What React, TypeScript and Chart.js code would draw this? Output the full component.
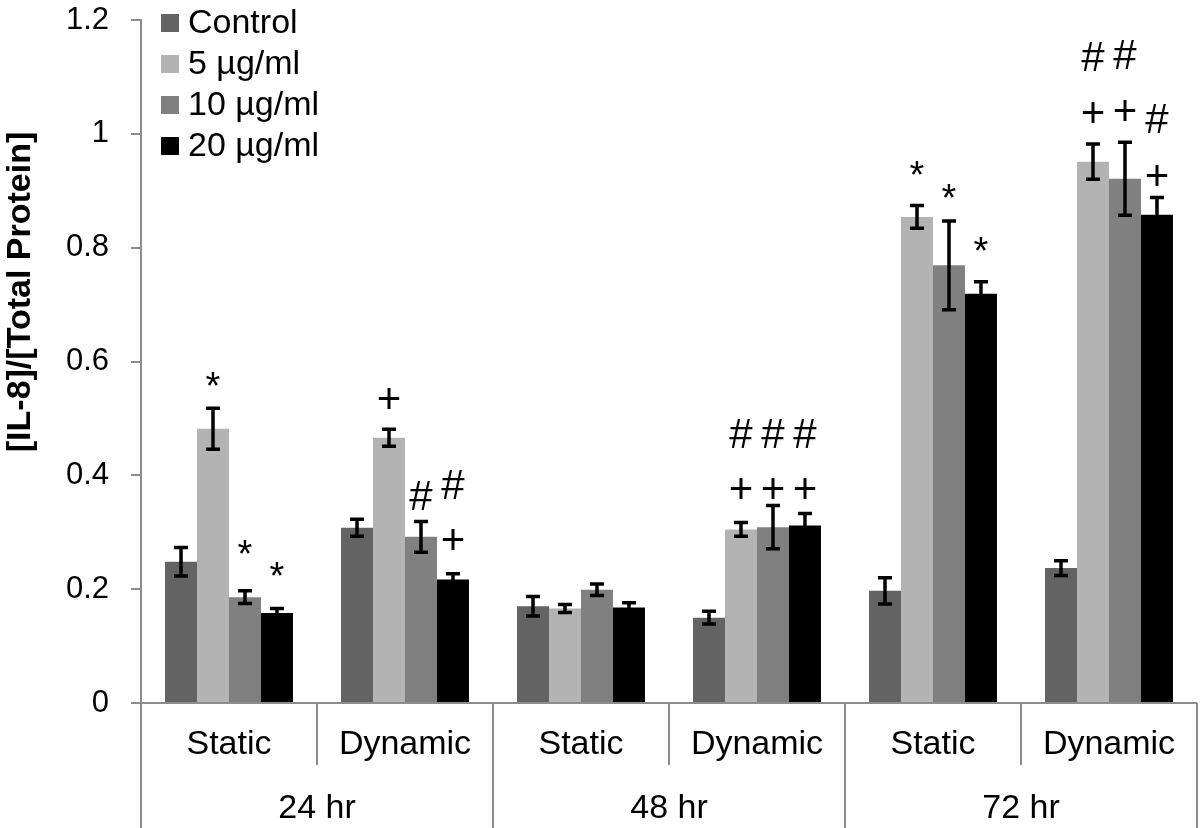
import React, { useEffect, useRef } from "react";
import { Chart, registerables } from "chart.js";

Chart.register(...registerables);

// ---- data ----
const conditions = ["Static", "Dynamic", "Static", "Dynamic", "Static", "Dynamic"];
const timepoints = ["24 hr", "48 hr", "72 hr"];
const seriesNames = ["Control", "5 µg/ml", "10 µg/ml", "20 µg/ml"];
const seriesColors = ["#636363", "#b3b3b3", "#808080", "#000000"];

const controlValues = [0.248, 0.308, 0.170, 0.150, 0.197, 0.237];
const controlErrors = [0.025, 0.015, 0.017, 0.011, 0.023, 0.013];
const dose5Values = [0.482, 0.466, 0.166, 0.305, 0.854, 0.951];
const dose5Errors = [0.036, 0.015, 0.007, 0.012, 0.020, 0.031];
const dose10Values = [0.186, 0.292, 0.199, 0.309, 0.769, 0.921];
const dose10Errors = [0.011, 0.027, 0.010, 0.038, 0.078, 0.064];
const dose20Values = [0.158, 0.217, 0.168, 0.312, 0.719, 0.858];
const dose20Errors = [0.008, 0.010, 0.008, 0.021, 0.021, 0.030];

// significance marks: [symbol, value at symbol centre] per category
const controlMarks: [string, number][][] = [[], [], [], [], [], []];
const dose5Marks: [string, number][][] = [
  [["*", 0.568]],
  [["+", 0.53]],
  [],
  [["#", 0.468], ["+", 0.371]],
  [["*", 0.938]],
  [["#", 1.13], ["+", 1.033]],
];
const dose10Marks: [string, number][][] = [
  [["*", 0.272]],
  [["#", 0.36]],
  [],
  [["#", 0.468], ["+", 0.371]],
  [["*", 0.899]],
  [["#", 1.135], ["+", 1.036]],
];
const dose20Marks: [string, number][][] = [
  [["*", 0.234]],
  [["#", 0.378], ["+", 0.282]],
  [],
  [["#", 0.468], ["+", 0.371]],
  [["*", 0.805]],
  [["#", 1.022], ["+", 0.922]],
];

const yTicks = [0, 0.2, 0.4, 0.6, 0.8, 1, 1.2];
const yTitle = "[IL-8]/[Total Protein]";

const allValues = [controlValues, dose5Values, dose10Values, dose20Values];
const allErrors = [controlErrors, dose5Errors, dose10Errors, dose20Errors];
const allMarks = [controlMarks, dose5Marks, dose10Marks, dose20Marks];

const FONT = "'Liberation Sans', Arial, Helvetica, sans-serif";
const AXIS_GRAY = "#8c8c8c";

const overlayPlugin = {
  id: "overlay",
  afterDatasetsDraw(chart: any) {
    const ctx = chart.ctx as CanvasRenderingContext2D;
    const area = chart.chartArea;
    const xs = chart.scales.x;
    const ys = chart.scales.y;
    const H = chart.height;

    // error bars
    ctx.save();
    ctx.strokeStyle = "#000";
    ctx.lineWidth = 3.5;
    chart.data.datasets.forEach((ds: any, i: number) => {
      const meta = chart.getDatasetMeta(i);
      meta.data.forEach((el: any, j: number) => {
        const v = allValues[i][j];
        const e = allErrors[i][j];
        const yt = ys.getPixelForValue(v + e);
        const yb = ys.getPixelForValue(v - e);
        const x = el.x;
        const cap = 7;
        ctx.beginPath();
        ctx.moveTo(x, yt);
        ctx.lineTo(x, yb);
        ctx.moveTo(x - cap, yt);
        ctx.lineTo(x + cap, yt);
        ctx.moveTo(x - cap, yb);
        ctx.lineTo(x + cap, yb);
        ctx.stroke();
      });
    });
    ctx.restore();

    // significance marks
    ctx.save();
    ctx.fillStyle = "#000";
    ctx.textAlign = "center";
    ctx.textBaseline = "middle";
    chart.data.datasets.forEach((ds: any, i: number) => {
      const meta = chart.getDatasetMeta(i);
      meta.data.forEach((el: any, j: number) => {
        allMarks[i][j].forEach(([sym, val]) => {
          const size = sym === "*" ? 38 : 42;
          ctx.font = `${size}px ${FONT}`;
          let y = ys.getPixelForValue(val);
          if (sym === "*") y += size * 0.23;
          ctx.fillText(sym, el.x, y);
        });
      });
    });
    ctx.restore();

    // x axis: baseline, separators, labels
    ctx.save();
    ctx.strokeStyle = AXIS_GRAY;
    ctx.lineWidth = 2;
    const n = conditions.length;
    const step = xs.getPixelForValue(1) - xs.getPixelForValue(0);
    ctx.beginPath();
    ctx.moveTo(area.left, area.bottom);
    ctx.lineTo(area.right, area.bottom);
    for (let b = 0; b <= n; b++) {
      const x = b === n ? xs.getPixelForValue(n - 1) + step / 2 : xs.getPixelForValue(b) - step / 2;
      const inner = b % 2 === 1;
      ctx.moveTo(x, area.bottom);
      ctx.lineTo(x, inner ? area.bottom + 62 : H);
    }
    ctx.stroke();

    ctx.fillStyle = "#000";
    ctx.textAlign = "center";
    ctx.textBaseline = "middle";
    ctx.font = `34px ${FONT}`;
    conditions.forEach((c, i) => {
      ctx.fillText(c, xs.getPixelForValue(i), area.bottom + 42);
    });
    timepoints.forEach((t, g) => {
      const cx = (xs.getPixelForValue(g * 2) + xs.getPixelForValue(g * 2 + 1)) / 2;
      ctx.fillText(t, cx, area.bottom + 106);
    });
    ctx.restore();

    // legend
    ctx.save();
    ctx.textAlign = "left";
    ctx.textBaseline = "middle";
    ctx.font = `34px ${FONT}`;
    chart.data.datasets.forEach((ds: any, i: number) => {
      const cy = area.top + 3 + i * 41;
      ctx.fillStyle = ds.backgroundColor;
      ctx.fillRect(area.left + 20, cy - 9, 18, 18);
      ctx.fillStyle = "#000";
      ctx.fillText(ds.label, area.left + 47, cy + 1);
    });
    ctx.restore();

    // y title
    ctx.save();
    ctx.translate(21, 292);
    ctx.rotate(-Math.PI / 2);
    ctx.textAlign = "center";
    ctx.textBaseline = "middle";
    ctx.font = `bold 34px ${FONT}`;
    ctx.fillStyle = "#000";
    ctx.fillText(yTitle, 0, 0);
    ctx.restore();
  },
};

export default function App() {
  const canvasRef = useRef<HTMLCanvasElement | null>(null);

  useEffect(() => {
    const canvas = canvasRef.current;
    if (!canvas) return;
    const chart = new Chart(canvas, {
      type: "bar",
      data: {
        labels: conditions,
        datasets: seriesNames.map((name, i) => ({
          label: name,
          data: allValues[i],
          backgroundColor: seriesColors[i],
          borderWidth: 0,
          categoryPercentage: 0.727,
          barPercentage: 1.0,
        })),
      },
      options: {
        responsive: false,
        animation: false,
        events: [],
        layout: { padding: { top: 20, right: 3, bottom: 125, left: 0 } },
        plugins: {
          legend: { display: false },
          tooltip: { enabled: false },
        },
        scales: {
          x: { display: false, offset: true },
          y: {
            min: 0,
            max: 1.2,
            afterBuildTicks: (s: any) => {
              s.ticks = yTicks.map((v) => ({ value: v }));
            },
            afterFit: (s: any) => {
              s.width = 141;
              s.paddingTop = 0;
              s.paddingBottom = 0;
            },
            ticks: {
              font: { family: FONT, size: 31 },
              color: "#000",
              padding: 22,
              callback: (v: any) => String(Number(Number(v).toFixed(1))),
            },
            grid: {
              drawOnChartArea: false,
              drawTicks: true,
              tickLength: 10,
              color: AXIS_GRAY,
              lineWidth: 2,
            },
            border: { display: true, color: AXIS_GRAY, width: 2 },
          },
        },
      },
      plugins: [overlayPlugin],
    });
    return () => chart.destroy();
  }, []);

  return (
    <div style={{ position: "absolute", left: 0, top: 0, width: 1200, height: 828, background: "#fff" }}>
      <canvas ref={canvasRef} width={1200} height={828} style={{ display: "block" }} />
    </div>
  );
}
